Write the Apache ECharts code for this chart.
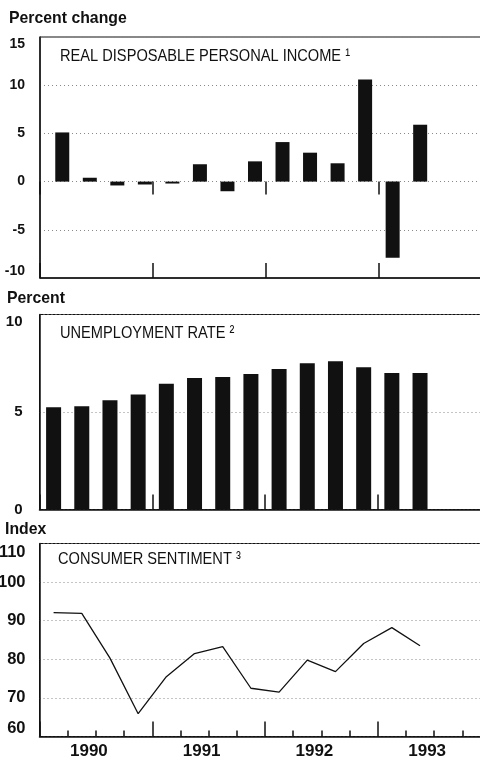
<!DOCTYPE html>
<html>
<head>
<meta charset="utf-8">
<script src="https://cdn.jsdelivr.net/npm/echarts@6/dist/echarts.min.js"></script>
<style>
  html, body { margin: 0; padding: 0; background: #fff; }
  #chart { width: 480px; height: 761px; }
</style>
</head>
<body>
<div id="chart"></div>
<script>
// quarters, 1990 Q1 to 1993 Q4
var quarters = ['1990 I', '1990 II', '1990 III', '1990 IV',
                '1991 I', '1991 II', '1991 III', '1991 IV',
                '1992 I', '1992 II', '1992 III', '1992 IV',
                '1993 I', '1993 II', '1993 III', '1993 IV'];
var years = ['1990', '1991', '1992', '1993'];

// real disposable personal income, percent change
var incomeChange = [5.1, 0.4, -0.4, -0.3, -0.2, 1.8, -1.0, 2.1, 4.1, 3.0, 1.9, 10.6, -7.9, 5.9];
// unemployment rate, percent
var unemployment = [5.25, 5.3, 5.6, 5.9, 6.45, 6.75, 6.8, 6.95, 7.2, 7.5, 7.6, 7.3, 7.0, 7.0];
// consumer sentiment index
var sentiment = [92.1, 91.9, 80.3, 65.9, 75.5, 81.5, 83.3, 72.5, 71.5, 79.8, 76.8, 84.1, 88.2, 83.5];

// tick labels of the value axes
var incomeTicks = [-10, -5, 0, 5, 10, 15];
var unemploymentTicks = [0, 5, 10];
var sentimentTicks = [60, 70, 80, 90, 100, 110];

var FONT = 'Liberation Sans, Arial, sans-serif';
var INK = '#111';

var chart = echarts.init(document.getElementById('chart'), null, { renderer: 'canvas' });

function valueAxis(grid, ticks, size, margin, minAlign) {
  return {
    type: 'value',
    gridIndex: grid,
    min: ticks[0],
    max: ticks[ticks.length - 1],
    interval: ticks[1] - ticks[0],
    axisLine: { show: true, lineStyle: { color: INK, width: 1.5 } },
    axisTick: { show: false },
    axisLabel: {
      color: INK, fontFamily: FONT, fontWeight: 'bold', fontSize: size, margin: margin,
      verticalAlignMaxLabel: 'top', verticalAlignMinLabel: minAlign
    },
    splitLine: { show: true, lineStyle: { color: '#8a8a8a', type: [1, 3], width: 1 } }
  };
}

function quarterAxis(grid, opts) {
  var ax = {
    type: 'category',
    gridIndex: grid,
    position: 'bottom',
    data: quarters,
    axisLine: { show: true, onZero: false, lineStyle: { color: INK, width: 1.5 } },
    axisTick: { show: true, inside: true, interval: 3, length: 15, lineStyle: { color: INK, width: 1.5 } },
    axisLabel: { show: false },
    splitLine: { show: false }
  };
  return Object.assign(ax, opts || {});
}

function gridBox(left, top, width, height, show) {
  return {
    left: left, top: top, width: width, height: height,
    show: show, borderColor: INK, borderWidth: 1,
    containLabel: false, outerBoundsMode: 'none'
  };
}

function caption(text, left, top, size, weight, sx) {
  return {
    type: 'text', left: left, top: top, scaleX: sx,
    style: { text: text, fill: INK, font: weight + ' ' + size + 'px ' + FONT }
  };
}

var option = {
  animation: false,
  backgroundColor: '#fff',
  grid: [
    gridBox(40, 37, 451, 241, true),       // income box
    gridBox(48.5, 37, 440.5, 241, false),  // income bars
    gridBox(39.5, 314.5, 451, 195, true),  // unemployment
    gridBox(39.5, 543.5, 451, 193, true)   // sentiment
  ],
  xAxis: [
    // 0: income, bottom axis with year ticks
    quarterAxis(0),
    // 1: income, year ticks across zero line
    quarterAxis(0, {
      axisLine: { show: true, onZero: true, lineStyle: { color: 'rgba(0,0,0,0)' } },
      axisTick: { show: true, inside: false, interval: 3, length: 13, lineStyle: { color: INK, width: 1.5 } }
    }),
    // 2: income bars (hidden)
    { type: 'category', gridIndex: 1, data: quarters, show: false },
    // 3: unemployment
    quarterAxis(2),
    // 4: sentiment, quarter ticks
    quarterAxis(3, {
      axisTick: { show: true, inside: true, interval: 0, length: 6, lineStyle: { color: INK, width: 1.5 } }
    }),
    // 5: sentiment, year ticks
    quarterAxis(3, {
      axisLine: { show: false, onZero: false }
    }),
    // 6: year labels
    {
      type: 'category', gridIndex: 3, position: 'bottom', data: years,
      axisLine: { show: false, onZero: false },
      axisTick: { show: false },
      axisLabel: {
        show: true, color: INK, fontFamily: FONT, fontWeight: 'bold', fontSize: 17,
        margin: 6, padding: [0, 14, 0, 0]
      }
    }
  ],
  yAxis: [
    valueAxis(0, incomeTicks, 14, 15, 'bottom'),
    Object.assign(valueAxis(1, incomeTicks, 14, 15, 'bottom'), { show: false }),
    valueAxis(2, unemploymentTicks, 15, 17, 'middle'),
    valueAxis(3, sentimentTicks, 16.5, 14, 'bottom')
  ],
  series: [
    {
      name: 'Real disposable personal income',
      type: 'bar', xAxisIndex: 2, yAxisIndex: 1,
      data: incomeChange, barWidth: 14,
      itemStyle: { color: INK }
    },
    {
      name: 'Unemployment rate',
      type: 'bar', xAxisIndex: 3, yAxisIndex: 2,
      data: unemployment, barWidth: 15,
      itemStyle: { color: INK }
    },
    {
      name: 'Consumer sentiment',
      type: 'line', xAxisIndex: 4, yAxisIndex: 3,
      data: sentiment, symbol: 'none',
      lineStyle: { color: INK, width: 1.3 }
    }
  ],
  graphic: [
    caption('Percent change', 9, 10, 17, 'bold', 0.93),
    caption('Percent', 7, 290, 17, 'bold', 0.93),
    caption('Index', 5, 521, 17, 'bold', 0.93),
    caption('REAL DISPOSABLE PERSONAL INCOME \u00b9', 60, 48, 17, 'normal', 0.86),
    caption('UNEMPLOYMENT RATE \u00b2', 60, 325, 17, 'normal', 0.86),
    caption('CONSUMER SENTIMENT \u00b3', 58, 551, 17, 'normal', 0.86)
  ]
};

chart.setOption(option);
</script>
</body>
</html>
